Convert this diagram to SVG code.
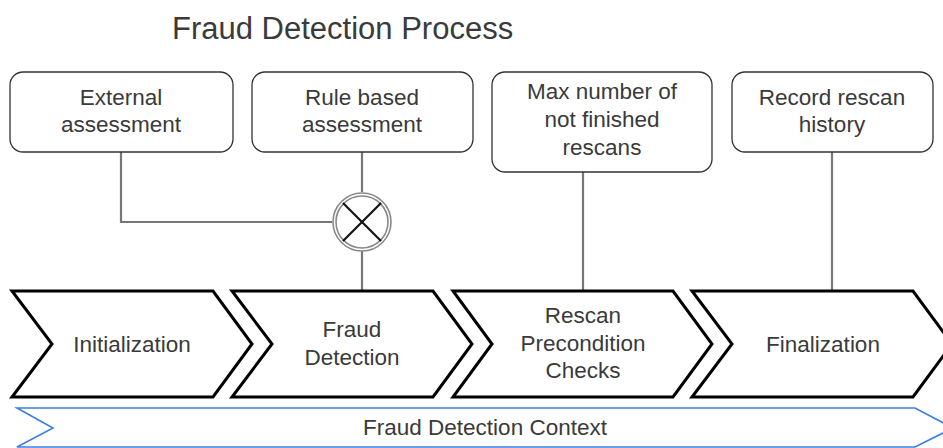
<svg xmlns="http://www.w3.org/2000/svg" width="943" height="448" viewBox="0 0 943 448">
<style>
text{font-family:"Liberation Sans",Arial,sans-serif;fill:#3a3a3a;text-anchor:middle}
.t{font-size:22.5px}
.title{font-size:31px;text-anchor:start}
.box{fill:#fff;stroke:#333;stroke-width:1.3}
.chev{fill:#fff;stroke:#000;stroke-width:3;stroke-linejoin:miter}
.ctx{fill:#fff;stroke:#3c7ee2;stroke-width:1.6}
.conn{fill:none;stroke:#777;stroke-width:2.2}
.ring{fill:none;stroke:#888;stroke-width:1.6}
.x{stroke:#111;stroke-width:2.2}
</style>
<rect width="943" height="448" fill="#fff"/>
<text class="title" x="172" y="39">Fraud Detection Process</text>

<g id="context">
<path class="ctx" d="M17,408 L915,408 L953,428 L915,447 L17,447 L53,428 Z"/>
<text class="t" x="485" y="435">Fraud Detection Context</text>
</g>

<g id="connectors">
<path class="conn" d="M121,152 V222 H332"/>
<path class="conn" d="M362,152 V192"/>
<path class="conn" d="M362,251 V291"/>
<path class="conn" d="M583,172 V291"/>
<path class="conn" d="M832,152 V291"/>
</g>

<g id="xor">
<circle cx="362" cy="222" r="29" fill="#fff" class="ring"/>
<circle cx="362" cy="222" r="26" class="ring"/>
<line class="x" x1="343" y1="203" x2="381" y2="241"/>
<line class="x" x1="381" y1="203" x2="343" y2="241"/>
</g>

<g id="external">
<rect class="box" x="10" y="72" width="223" height="80" rx="13"/>
<text class="t" x="121" y="105">External</text>
<text class="t" x="121" y="132">assessment</text>
</g>
<g id="rulebased">
<rect class="box" x="252" y="72" width="221" height="80" rx="13"/>
<text class="t" x="362" y="105">Rule based</text>
<text class="t" x="362" y="132">assessment</text>
</g>
<g id="maxnumber">
<rect class="box" x="492" y="72" width="220" height="100" rx="13"/>
<text class="t" x="602" y="99">Max number of</text>
<text class="t" x="602" y="127">not finished</text>
<text class="t" x="602" y="155">rescans</text>
</g>
<g id="record">
<rect class="box" x="732" y="72" width="201" height="80" rx="13"/>
<text class="t" x="832" y="105">Record rescan</text>
<text class="t" x="832" y="132">history</text>
</g>

<g id="initialization">
<path class="chev" d="M12,291 L213,291 L252,344 L213,397 L12,397 L52,344 Z"/>
<text class="t" x="132" y="352">Initialization</text>
</g>
<g id="frauddetection">
<path class="chev" d="M232,291 L433,291 L472,344 L433,397 L232,397 L272,344 Z"/>
<text class="t" x="352" y="337">Fraud</text>
<text class="t" x="352" y="365">Detection</text>
</g>
<g id="rescan">
<path class="chev" d="M453,291 L673,291 L712,344 L673,397 L453,397 L492,344 Z"/>
<text class="t" x="583" y="323">Rescan</text>
<text class="t" x="583" y="351">Precondition</text>
<text class="t" x="583" y="378">Checks</text>
</g>
<g id="finalization">
<path class="chev" d="M692,291 L913,291 L952,344 L913,397 L692,397 L732,344 Z"/>
<text class="t" x="823" y="352">Finalization</text>
</g>
</svg>
